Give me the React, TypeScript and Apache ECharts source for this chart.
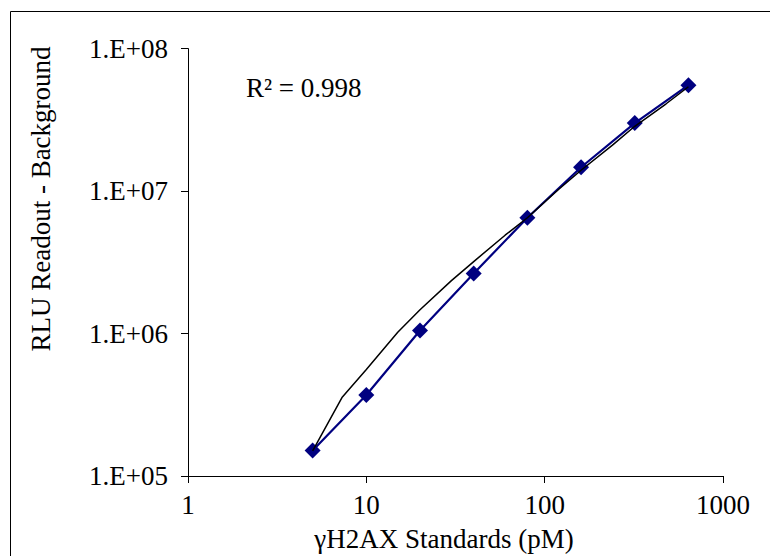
import React, { useEffect, useRef } from "react";
import * as echarts from "echarts";

const xValues = [5, 10, 20, 40, 80, 160, 320, 640];
const rluValues = [1.51e5, 3.7e5, 1.05e6, 2.64e6, 6.5e6, 1.47e7, 3.0e7, 5.54e7];
const trendX = [5, 7.3, 10, 15, 20, 30, 40, 60, 80, 120, 160, 240, 320, 480, 640];
const trendY = [1.5e5, 3.55e5, 5.6e5, 1.02e6, 1.47e6, 2.35e6, 3.2e6, 4.9e6, 6.5e6, 1.03e7, 1.4e7, 2.1e7, 2.85e7, 4.1e7, 5.4e7];
const xTickLabels = ["1", "10", "100", "1000"];
const yTickLabels = ["1.E+05", "1.E+06", "1.E+07", "1.E+08"];
const r2Text = "R² = 0.998";
const xTitle = "γH2AX Standards (pM)";
const yTitle = "RLU Readout - Background";

const FONT = "'Liberation Serif', 'Times New Roman', serif";
const FS = 27;

export default function App() {
  const ref = useRef<HTMLDivElement>(null);
  useEffect(() => {
    if (!ref.current) return;
    const chart = echarts.init(ref.current, null, { renderer: "svg" });
    const dataPts = xValues.map((x, i) => [x, rluValues[i]]);
    const trendPts = trendX.map((x, i) => [x, trendY[i]]);
    chart.setOption({
      animation: false,
      backgroundColor: "#ffffff",
      grid: { left: 188, right: 47, top: 48.6, bottom: 80 },
      xAxis: {
        type: "log",
        logBase: 10,
        min: 1,
        max: 1000,
        axisLine: { show: true, lineStyle: { color: "#000", width: 1 } },
        axisTick: { show: true, length: 7, lineStyle: { color: "#000" } },
        minorTick: { show: false },
        splitLine: { show: false },
        axisLabel: {
          color: "#000",
          fontFamily: FONT,
          fontSize: FS,
          margin: 15,
          formatter: (v: number) => xTickLabels[Math.round(Math.log10(v))] ?? "",
        },
      },
      yAxis: {
        type: "log",
        logBase: 10,
        min: 1e5,
        max: 1e8,
        axisLine: { show: true, onZero: false, lineStyle: { color: "#000", width: 1 } },
        axisTick: { show: true, length: 7, lineStyle: { color: "#000" } },
        minorTick: { show: false },
        splitLine: { show: false },
        axisLabel: {
          color: "#000",
          fontFamily: FONT,
          fontSize: FS,
          margin: 20,
          formatter: (v: number) => yTickLabels[Math.round(Math.log10(v)) - 5] ?? "",
        },
      },
      graphic: [
        {
          type: "rect",
          shape: { x: 10.5, y: 11.5, width: 800, height: 600 },
          style: { fill: "none", stroke: "#000", lineWidth: 1 },
          silent: true,
          z: -1,
        },
        {
          type: "text",
          x: 246,
          y: 88,
          style: {
            text: r2Text,
            font: `${FS}px ${FONT}`,
            fill: "#000",
            textAlign: "left",
            textVerticalAlign: "middle",
          },
        },
        {
          type: "text",
          x: 444,
          y: 539,
          style: {
            text: xTitle,
            font: `${FS}px ${FONT}`,
            fill: "#000",
            textAlign: "center",
            textVerticalAlign: "middle",
          },
        },
        {
          type: "text",
          x: 41,
          y: 199,
          rotation: Math.PI / 2,
          style: {
            text: yTitle,
            font: `${FS}px ${FONT}`,
            fill: "#000",
            textAlign: "center",
            textVerticalAlign: "middle",
          },
        },
      ],
      series: [
        {
          name: "Standards",
          type: "line",
          data: dataPts,
          symbol: "diamond",
          symbolSize: 16,
          itemStyle: { color: "#000080" },
          lineStyle: { color: "#000080", width: 2.2 },
          z: 2,
        },
        {
          name: "Trend",
          type: "line",
          data: trendPts,
          symbol: "none",
          smooth: false,
          lineStyle: { color: "#000", width: 1.5 },
          z: 3,
        },
      ],
    });
    return () => chart.dispose();
  }, []);
  return (
    <div
      ref={ref}
      style={{ position: "absolute", left: 0, top: 0, width: 770, height: 556 }}
    />
  );
}
